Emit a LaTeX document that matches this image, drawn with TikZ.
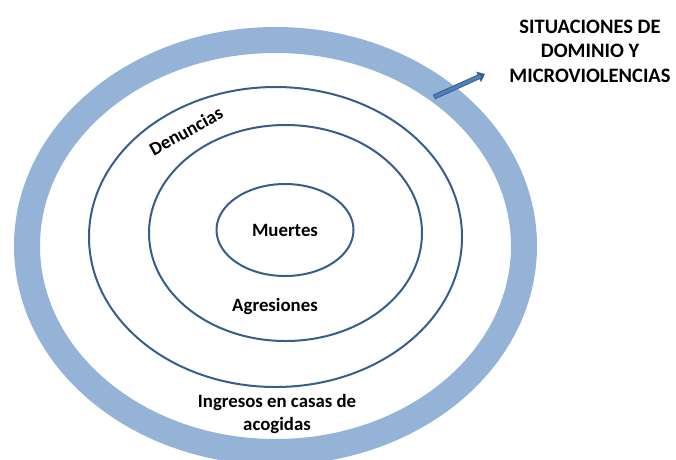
\documentclass[tikz,border=0pt]{standalone}
\usepackage{fontspec}
\setmainfont{Carlito}
\usetikzlibrary{shapes.geometric,arrows.meta}
\definecolor{ringblue}{RGB}{149,179,215}
\definecolor{lineblue}{RGB}{56,93,138}
\definecolor{arrowfill}{RGB}{79,129,189}
\tikzset{
  ring/.style={ellipse, draw=lineblue, line width=2pt, inner sep=0pt},
  lbl/.style={font=\fontsize{18.8}{23}\selectfont\bfseries, align=center, inner sep=0pt},
}
\begin{document}
\begin{tikzpicture}[x=1pt,y=-1pt]
\useasboundingbox (0,0) rectangle (676,459);
\clip (0,0) rectangle (676,459);
\fill[white] (0,0) rectangle (676,459);
% outer thick ring
\node[ellipse, draw=ringblue, line width=26pt, inner sep=0pt, minimum width=497pt, minimum height=412pt] (outer) at (275.5,246) {};
\node[ring, minimum width=373pt, minimum height=300pt] (den) at (275.5,237) {};
\node[ring, minimum width=273pt, minimum height=216pt] (agr) at (285.5,233) {};
\node[ring, minimum width=137pt, minimum height=92pt] (mue) at (285,230) {};
% labels
\node[lbl] (tmue) at (285,230) {Muertes};
\node[lbl] (tagr) at (275,306) {Agresiones};
\node[lbl] (ting) at (277,413.5) {Ingresos en casas de\\acogidas};
\node[lbl, rotate=29] (tden) at (186,131) {Denuncias};
\node[font=\fontsize{20.5}{24.5}\selectfont\bfseries, align=center, inner sep=0pt] (title) at (590,51) {SITUACIONES DE\\DOMINIO Y\\MICROVIOLENCIAS};
% arrow
\coordinate (atail) at (434,97);
\coordinate (ahead) at (485,74);
\draw[lineblue, line width=5pt, -{Triangle[length=7pt,width=11pt]}] (atail) -- (ahead);
\draw[arrowfill, line width=3pt, shorten >=5pt, shorten <=0.8pt] (atail) -- (ahead);
\end{tikzpicture}
\end{document}
